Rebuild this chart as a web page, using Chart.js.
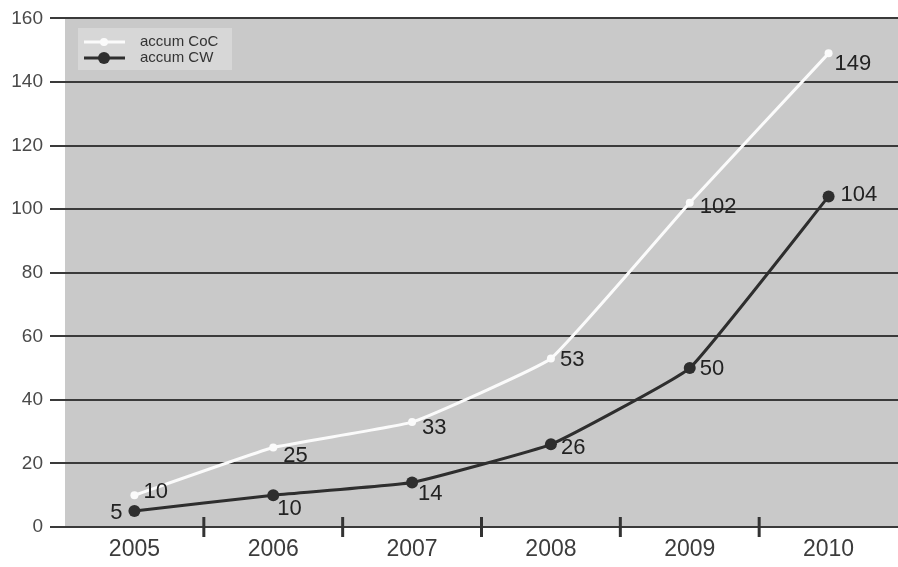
<!DOCTYPE html>
<html>
<head>
<meta charset="utf-8">
<script src="https://cdn.jsdelivr.net/npm/chart.js@4"></script>
<style>
  html, body { margin: 0; padding: 0; background: #fff; overflow: hidden; }
  #wrap { width: 898px; height: 567px; }
</style>
</head>
<body>
<div id="wrap"><canvas id="chart"></canvas></div>
<script>
// Chart data
const years = ['2005', '2006', '2007', '2008', '2009', '2010'];
const accumCoC = [10, 25, 33, 53, 102, 149];
const accumCW = [5, 10, 14, 26, 50, 104];
const yTicks = [0, 20, 40, 60, 80, 100, 120, 140, 160];

const FONT = '"Liberation Sans", Arial, sans-serif';

// Grey plot background
const plotBackground = {
    id: 'plotBackground',
    beforeDraw(chart) {
        const { ctx, chartArea: a } = chart;
        ctx.save();
        ctx.fillStyle = '#c9c9c9';
        ctx.fillRect(a.left, a.top, a.right - a.left, a.bottom - a.top);
        ctx.restore();
    }
};

// Tick marks between the years, crossing the zero line
const yearTicks = {
    id: 'yearTicks',
    afterDraw(chart) {
        const { ctx, chartArea: a } = chart;
        const x = chart.scales.x;
        ctx.save();
        ctx.strokeStyle = '#333';
        ctx.lineWidth = 3;
        for (let i = 0; i < years.length - 1; i++) {
            const px = (x.getPixelForValue(i) + x.getPixelForValue(i + 1)) / 2;
            ctx.beginPath();
            ctx.moveTo(px, a.bottom - 10);
            ctx.lineTo(px, a.bottom + 10);
            ctx.stroke();
        }
        ctx.restore();
    }
};

// Value labels next to each point
const valueLabels = {
    id: 'valueLabels',
    afterDatasetsDraw(chart) {
        const { ctx } = chart;
        ctx.save();
        ctx.font = '22px ' + FONT;
        ctx.fillStyle = '#222';
        ctx.textBaseline = 'middle';
        chart.data.datasets.forEach((ds, di) => {
            const meta = chart.getDatasetMeta(di);
            meta.data.forEach((pt, i) => {
                const [dx, dy, align] = ds.labelOffsets[i];
                ctx.textAlign = align || 'left';
                ctx.fillText(String(ds.data[i]), pt.x + dx, pt.y + dy);
            });
        });
        ctx.restore();
    }
};

// Small legend inside the plot, top left
const boxLegend = {
    id: 'boxLegend',
    afterDraw(chart) {
        const { ctx } = chart;
        ctx.save();
        ctx.fillStyle = '#d7d7d7';
        ctx.fillRect(78, 28, 154, 42);
        ctx.font = '15px ' + FONT;
        ctx.textBaseline = 'middle';
        chart.data.datasets.forEach((ds, i) => {
            const y = 42 + i * 16;
            ctx.strokeStyle = ds.borderColor;
            ctx.lineWidth = 3;
            ctx.beginPath();
            ctx.moveTo(84, y);
            ctx.lineTo(125, y);
            ctx.stroke();
            ctx.fillStyle = ds.pointBackgroundColor;
            ctx.beginPath();
            ctx.arc(104, y, ds.pointRadius, 0, Math.PI * 2);
            ctx.fill();
            ctx.fillStyle = '#333';
            ctx.textAlign = 'left';
            ctx.fillText(ds.label, 140, y);
        });
        ctx.restore();
    }
};

new Chart(document.getElementById('chart'), {
    type: 'line',
    data: {
        labels: years,
        datasets: [{
            label: 'accum CoC',
            data: accumCoC,
            borderColor: '#fbfbfb',
            backgroundColor: '#fbfbfb',
            pointBackgroundColor: '#fbfbfb',
            pointBorderWidth: 0,
            pointRadius: 4,
            borderWidth: 3,
            tension: 0.1,
            labelOffsets: [[9, -3], [10, 8], [10, 6], [9, 1], [10, 4], [6, 11]]
        }, {
            label: 'accum CW',
            data: accumCW,
            borderColor: '#2e2e2e',
            backgroundColor: '#2e2e2e',
            pointBackgroundColor: '#2e2e2e',
            pointBorderWidth: 0,
            pointRadius: 6,
            borderWidth: 3,
            tension: 0.1,
            labelOffsets: [[-12, 2, 'right'], [4, 14], [6, 11], [10, 4], [10, 1], [12, -1]]
        }]
    },
    options: {
        responsive: true,
        maintainAspectRatio: false,
        animation: false,
        events: [],
        layout: { autoPadding: false, padding: { top: 14, right: 0, left: 0, bottom: 0 } },
        plugins: {
            legend: { display: false },
            tooltip: { enabled: false }
        },
        scales: {
            x: {
                offset: true,
                grid: { display: false, drawTicks: false },
                border: { display: false },
                ticks: {
                    color: '#3c3c3c',
                    font: { family: FONT, size: 23 },
                    padding: 9,
                    maxRotation: 0
                },
                afterFit: scale => { scale.height = 40; }
            },
            y: {
                min: 0,
                max: 160,
                afterBuildTicks: scale => { scale.ticks = yTicks.map(v => ({ value: v })); },
                grid: { color: '#3a3a3a', lineWidth: 2, tickLength: 15 },
                border: { display: false },
                ticks: {
                    color: '#4a4a4a',
                    font: { family: FONT, size: 19 },
                    padding: 7
                },
                afterFit: scale => { scale.width = 65; }
            }
        }
    },
    plugins: [plotBackground, yearTicks, valueLabels, boxLegend]
});
</script>
</body>
</html>
